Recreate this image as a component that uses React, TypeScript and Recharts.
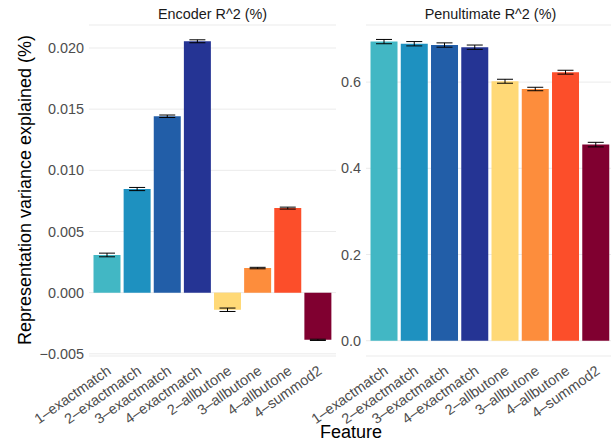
import { BarChart, Bar, XAxis, YAxis, CartesianGrid, Cell, ErrorBar } from 'recharts';

const features = [
    '1–exactmatch', '2–exactmatch', '3–exactmatch', '4–exactmatch',
    '2–allbutone', '3–allbutone', '4–allbutone', '4–summod2',
];
const featureColors = [
    '#42b7c4', '#1e91c0', '#225ea8', '#253494',
    '#ffd977', '#fd8d3c', '#fc4e2a', '#800030',
];

const encoderValues = [0.00308, 0.00847, 0.01442, 0.02055, -0.00140, 0.00201, 0.00691, -0.00386];
const encoderErr = [0.00015, 0.00013, 0.0001, 0.00012, 0.00014, 0.00006, 0.00008, 0.00005];
const encoderTicks = [-0.005, 0, 0.005, 0.01, 0.015, 0.02];

const penultValues = [0.694, 0.689, 0.686, 0.681, 0.602, 0.584, 0.623, 0.455];
const penultErr = [0.005, 0.005, 0.005, 0.005, 0.0046, 0.004, 0.0045, 0.0053];
const penultTicks = [0, 0.2, 0.4, 0.6];

const FONT = '"Liberation Sans", Arial, sans-serif';

const encoderData = features.map((f, i) => ({ feature: f, value: encoderValues[i], err: encoderErr[i] }));
const penultData = features.map((f, i) => ({ feature: f, value: penultValues[i], err: penultErr[i] }));

const FeatureTick = ({ x, payload }: { x?: number; payload?: any }) => (
    <text
        x={(x ?? 0) + 5}
        y={373}
        textAnchor="end"
        fontSize={14.4}
        fill="#4d4d4d"
        fontFamily={FONT}
        transform={`rotate(-35, ${(x ?? 0) + 5}, 373)`}
    >
        {payload.value}
    </text>
);

const fmtEncoder = (v: number) => (v < 0 ? '−' + Math.abs(v).toFixed(3) : v.toFixed(3));
const fmtPenult = (v: number) => v.toFixed(1);

const Panel = ({ data, ticks, domain, fmt, width, axisWidth }: {
    data: any[]; ticks: number[]; domain: [number, number]; fmt: (v: number) => string; width: number; axisWidth: number;
}) => (
    <BarChart width={width} height={443} data={data} margin={{ top: 25, right: 0, bottom: 0, left: 0 }} barCategoryGap="5%">
        <CartesianGrid vertical={false} stroke="#ebebeb" strokeWidth={1} />
        <XAxis
            dataKey="feature"
            height={87}
            padding={{ left: 3, right: 3 }}
            tickLine={false}
            axisLine={false}
            interval={0}
            tick={<FeatureTick />}
        />
        <YAxis
            width={axisWidth}
            domain={domain}
            ticks={ticks}
            allowDataOverflow
            tickLine={false}
            axisLine={false}
            tickSize={0}
            tickMargin={5}
            tickFormatter={fmt}
            tick={{ fill: '#4d4d4d', fontSize: 14.4, fontFamily: FONT }}
        />
        <Bar dataKey="value" isAnimationActive={false}>
            {data.map((d, i) => (
                <Cell key={d.feature} fill={featureColors[i]} />
            ))}
            <ErrorBar dataKey="err" width={8} stroke="#000" strokeWidth={1} isAnimationActive={false} />
        </Bar>
    </BarChart>
);

export default function App() {
    return (
        <div style={{ position: 'absolute', left: 0, top: 0, width: 611, height: 443, overflow: 'hidden', background: '#fff', fontFamily: FONT }}>
            <div style={{ position: 'absolute', left: 0, top: 0 }}>
                <Panel data={encoderData} ticks={encoderTicks} domain={[-0.00518, 0.02188]} fmt={fmtEncoder} width={336} axisWidth={89} />
            </div>
            <div style={{ position: 'absolute', left: 300, top: 0 }}>
                <Panel data={penultData} ticks={penultTicks} domain={[-0.0355, 0.7325]} fmt={fmtPenult} width={314} axisWidth={66} />
            </div>
            <svg width={611} height={443} style={{ position: 'absolute', left: 0, top: 0, pointerEvents: 'none' }}>
                <text x={212.5} y={19} textAnchor="middle" fontSize={14.4} fill="#1a1a1a" fontFamily={FONT}>Encoder R^2 (%)</text>
                <text x={490.5} y={19} textAnchor="middle" fontSize={14.4} fill="#1a1a1a" fontFamily={FONT}>Penultimate R^2 (%)</text>
                <text x={351} y={438} textAnchor="middle" fontSize={18} fill="#000" fontFamily={FONT}>Feature</text>
                <text x={30.5} y={190} textAnchor="middle" fontSize={18} fill="#000" fontFamily={FONT} transform="rotate(-90, 30.5, 190)">
                    Representation variance explained (%)
                </text>
            </svg>
        </div>
    );
}
